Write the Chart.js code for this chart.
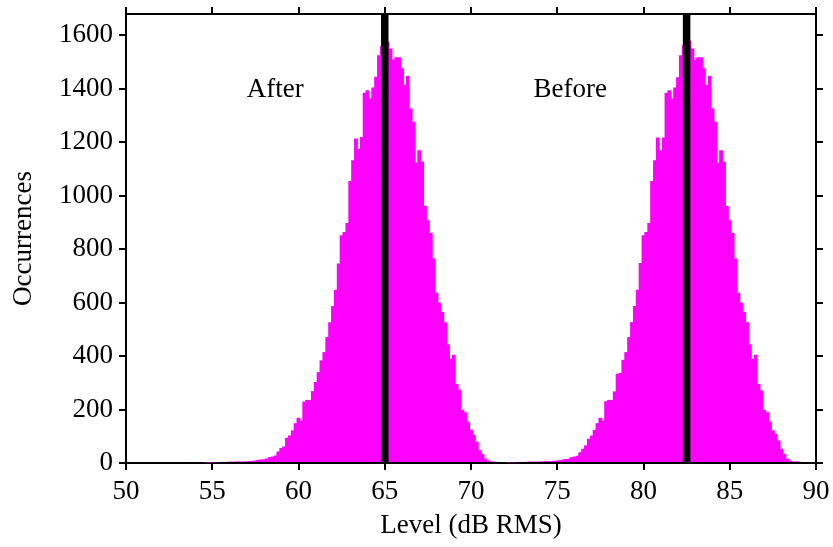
<!DOCTYPE html>
<html>
<head>
<meta charset="utf-8">
<style>
html,body{margin:0;padding:0;background:#fff;}
canvas{display:block;}
</style>
<script src="https://cdn.jsdelivr.net/npm/chart.js@4"></script>
</head>
<body>
<canvas id="c" width="833" height="547"></canvas>
<script>
// ---------- data ----------
const binWidth = 1 / 6;               // dB per histogram bin
const afterFirstLevel = 54 + 4 / 6;   // centre of first "After" bin (dB)
const beforeFirstLevel = 72 + 1 / 6;  // centre of first "Before" bin (dB)

const afterCounts = [
  2, 2, 3, 3, 3, 4, 4, 4, 5, 5,
  5, 6, 5, 6, 6, 7, 8, 9, 12, 13,
  14, 17, 22, 24, 28, 43, 56, 62, 94, 103,
  122, 149, 169, 159, 230, 236, 236, 269, 303, 340,
  384, 415, 471, 527, 587, 648, 746, 852, 864, 898,
  1055, 1133, 1214, 1175, 1220, 1385, 1395, 1364, 1405, 1445,
  1526, 1560, 1600, 1575, 1551, 1510, 1518, 1518, 1477, 1414,
  1448, 1326, 1277, 1123, 1170, 1127, 962, 908, 861, 765,
  637, 600, 565, 527, 444, 390, 405, 296, 274, 199,
  190, 155, 125, 105, 80, 48, 34, 17, 10, 6,
  5, 4, 0, 0, 0
];

const beforeCounts = [
  2, 3, 3, 3, 4, 4, 4, 5, 5, 5,
  5, 6, 6, 7, 7, 7, 8, 9, 11, 13,
  15, 16, 22, 24, 27, 40, 53, 66, 90, 103,
  124, 149, 169, 159, 231, 236, 236, 268, 334, 337,
  386, 415, 471, 527, 587, 648, 748, 852, 864, 898,
  1055, 1133, 1218, 1170, 1218, 1385, 1395, 1364, 1405, 1443,
  1526, 1565, 1605, 1580, 1551, 1510, 1518, 1518, 1477, 1414,
  1448, 1326, 1277, 1123, 1170, 1127, 962, 908, 861, 765,
  637, 600, 565, 527, 444, 390, 405, 296, 271, 199,
  190, 155, 122, 109, 84, 53, 34, 16, 9, 6,
  6, 5
];

const seriesNames = ['After', 'Before'];
const markerLevels = [65.0, 82.5];    // vertical reference lines (dB)

const xTickValues = [50, 55, 60, 65, 70, 75, 80, 85, 90];
const yTickValues = [0, 200, 400, 600, 800, 1000, 1200, 1400, 1600];
const xMin = 50, xMax = 90, yMin = 0, yMax = 1680;
const xTitle = 'Level (dB RMS)';
const yTitle = 'Occurrences';

// ---------- chart ----------
const FONT = "'Liberation Serif', 'Times New Roman', serif";
const FS = 27;
Chart.defaults.font.family = FONT;
Chart.defaults.font.size = FS;
Chart.defaults.color = '#000';

const toPoints = (first, counts) => counts.map((c, i) => ({x: first + i * binWidth, y: c}));

const labelPlacement = [
  {x: 58.65, y: 1370},
  {x: 75.75, y: 1370}
];

const seriesLabelPlugin = {
  id: 'seriesLabels',
  afterDatasetsDraw(chart) {
    const {ctx, scales: {x, y}} = chart;
    ctx.save();
    ctx.font = FS + 'px ' + FONT;
    ctx.fillStyle = '#000';
    ctx.textAlign = 'center';
    ctx.textBaseline = 'alphabetic';
    seriesNames.forEach((name, i) => {
      ctx.fillText(name, x.getPixelForValue(labelPlacement[i].x), y.getPixelForValue(labelPlacement[i].y));
    });
    ctx.restore();
  }
};

const gridOpts = {drawOnChartArea: false, drawTicks: true, tickLength: 7, color: '#000', lineWidth: 2, offset: false};
const borderOpts = {display: true, color: '#000', width: 2};
const noPad = s => { s.paddingTop = 0; s.paddingBottom = 0; s.paddingLeft = 0; s.paddingRight = 0; };

const barStyle = {
  backgroundColor: '#ff00ff',
  borderWidth: 0,
  barPercentage: 1.35,
  categoryPercentage: 1,
  grouped: false,
  order: 1
};
const lineStyle = {
  type: 'line',
  borderColor: '#000',
  borderWidth: 7.5,
  pointRadius: 0,
  borderCapStyle: 'butt',
  fill: false,
  order: 0
};

new Chart(document.getElementById('c'), {
  type: 'bar',
  data: {
    datasets: [
      Object.assign({label: seriesNames[0] + ' level', data: [{x: markerLevels[0], y: yMin}, {x: markerLevels[0], y: yMax}]}, lineStyle),
      Object.assign({label: seriesNames[1] + ' level', data: [{x: markerLevels[1], y: yMin}, {x: markerLevels[1], y: yMax}]}, lineStyle),
      Object.assign({label: seriesNames[0], data: toPoints(afterFirstLevel, afterCounts)}, barStyle),
      Object.assign({label: seriesNames[1], data: toPoints(beforeFirstLevel, beforeCounts)}, barStyle)
    ]
  },
  options: {
    responsive: false,
    animation: false,
    devicePixelRatio: 1,
    layout: {padding: 0},
    plugins: {legend: {display: false}, tooltip: {enabled: false}, title: {display: false}},
    scales: {
      x: {
        type: 'linear', position: 'bottom', min: xMin, max: xMax, offset: false,
        afterBuildTicks: s => { s.ticks = xTickValues.map(v => ({value: v})); },
        ticks: {padding: 6, color: '#000', font: {size: FS}, maxRotation: 0, autoSkip: false, callback: v => String(v)},
        grid: gridOpts, border: borderOpts,
        title: {display: true, text: xTitle, color: '#000', font: {size: FS}, padding: {top: 0, bottom: 5}},
        afterFit: s => { s.height = 84; noPad(s); }
      },
      x2: {
        type: 'linear', position: 'top', min: xMin, max: xMax, offset: false,
        afterBuildTicks: s => { s.ticks = xTickValues.map(v => ({value: v})); },
        ticks: {display: false},
        grid: gridOpts, border: borderOpts,
        afterFit: s => { s.height = 14; noPad(s); }
      },
      y: {
        type: 'linear', position: 'left', min: yMin, max: yMax,
        afterBuildTicks: s => { s.ticks = yTickValues.map(v => ({value: v})); },
        ticks: {padding: 6, color: '#000', font: {size: FS}, includeBounds: false, callback: v => String(v)},
        grid: gridOpts, border: borderOpts,
        title: {display: true, text: yTitle, color: '#000', font: {size: FS}, padding: {top: 8, bottom: 0}},
        afterFit: s => { s.width = 126; noPad(s); }
      },
      y2: {
        type: 'linear', position: 'right', min: yMin, max: yMax,
        afterBuildTicks: s => { s.ticks = yTickValues.map(v => ({value: v})); },
        ticks: {display: false},
        grid: gridOpts, border: borderOpts,
        afterFit: s => { s.width = 17; noPad(s); }
      }
    }
  },
  plugins: [seriesLabelPlugin]
});
</script>
</body>
</html>
